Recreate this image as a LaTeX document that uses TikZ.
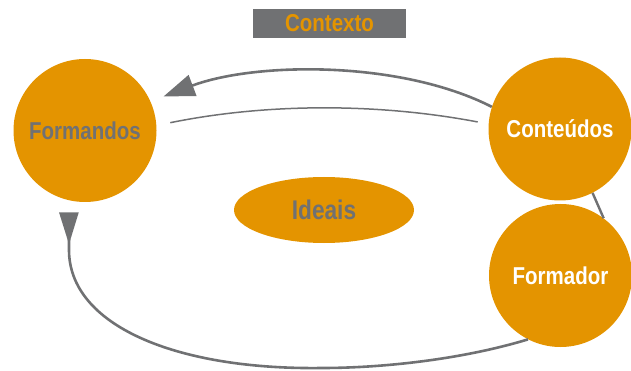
\documentclass[tikz,border=0pt]{standalone}
\usepackage{fontspec}
\setmainfont{Liberation Sans}[FakeStretch=0.84]
\usepackage{tikz}
\usetikzlibrary{shapes.geometric}
\usetikzlibrary{arrows.meta}
\definecolor{laranja}{RGB}{228,148,0}
\definecolor{cinza}{RGB}{112,113,115}
\tikzset{
	bola/.style={circle, fill=laranja, minimum size=143pt, inner sep=0pt, font=\fontsize{24.4}{28}\selectfont\bfseries},
	seta/.style={draw=cinza, line width=2.6pt},
}

\begin{document}
\begin{tikzpicture}[x=1pt, y=-1pt]
		\useasboundingbox (0,0) rectangle (631,371);

		\node[fill=cinza, minimum width=153pt, minimum height=29pt, inner sep=0pt, text=laranja, font=\fontsize{24.4}{28}\selectfont\bfseries] (contexto) at (329.5,23.5) {Contexto\hspace{14pt}};
		\node[bola, text=cinza] (formandos) at (85,130.5) {Formandos};
		\node[bola, text=white] (conteudos) at (560,129) {Conteúdos};
		\node[bola, text=white] (formador) at (560.5,275.5) {Formador};
		\node[ellipse, fill=laranja, minimum width=180pt, minimum height=66pt, inner sep=0pt, text=cinza, font=\fontsize{27}{30}\selectfont\bfseries] (ideais) at (324,210) {Ideais};

		\draw [seta, -{Triangle[length=31pt, width=22pt]}, shorten >=14pt] (conteudos.162) .. controls (400,60) and (255,62) .. (formandos.24);
		\draw [cinza, line width=1.5pt, shorten <=14pt, shorten >=11pt] (formandos.4) .. controls (267,103) and (378,103) .. (conteudos.176);
		\draw [seta, line width=2.4pt] (conteudos.-63) -- (formador.53);
		\draw [seta, -{Triangle[reversed, length=32pt, width=19pt]}, shorten >=12pt] (formador.-117) .. controls (460,360) and (380,368) .. (322,368) .. controls (175,370) and (69,325) .. (69,250) -- (formandos.-103);
\end{tikzpicture}
\end{document}
